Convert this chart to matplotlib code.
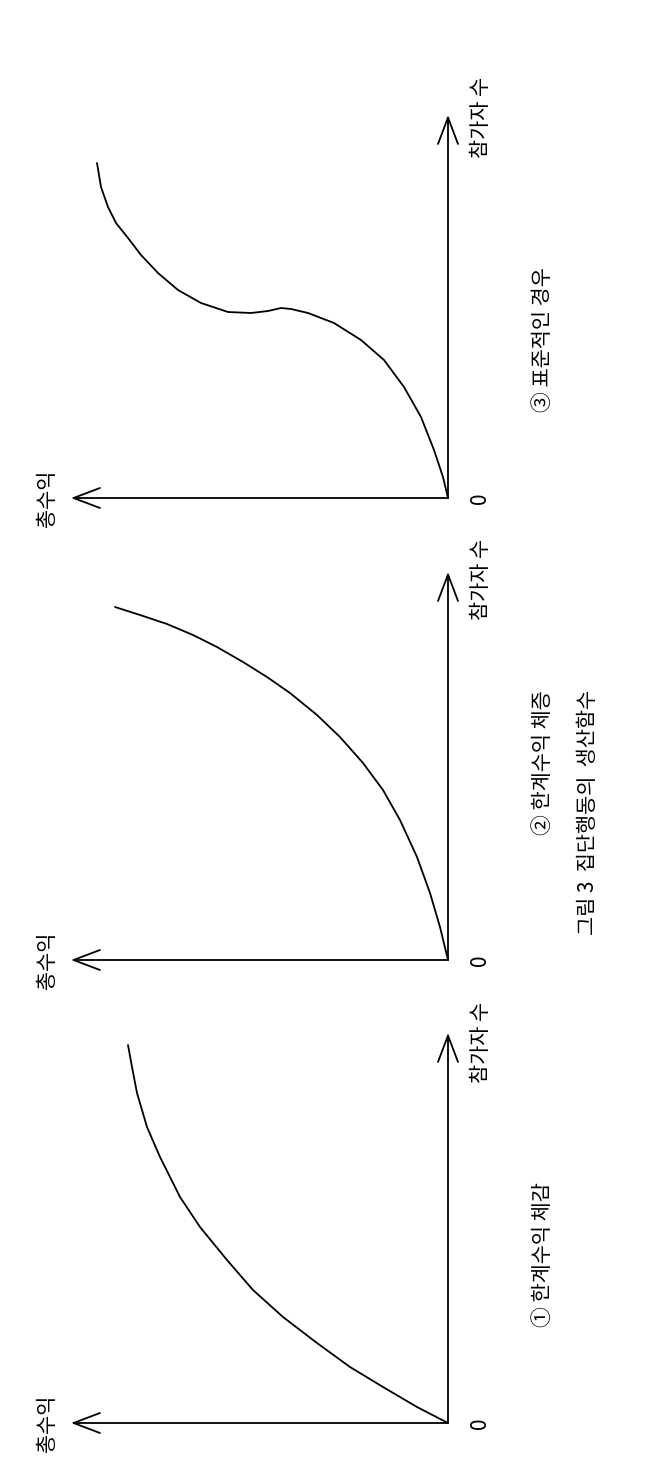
import matplotlib
matplotlib.use("Agg")
import matplotlib.pyplot as plt

plt.rcParams['font.family'] = ['Noto Sans CJK KR', 'DejaVu Sans']

# curves: (총수익, 참가자 수) in the same units for all panels
t1 = [0, 31, 65, 98, 131, 165, 195, 221, 248, 268, 288, 301, 311, 316, 320]
p1 = [0, 16, 36, 56, 80, 106, 133, 163, 196, 226, 266, 296, 330, 356, 378]

t2 = [0, 8, 18, 31, 48, 65, 85, 108, 131, 158, 181, 205, 231, 255, 281, 308, 333]
p2 = [0, 33, 67, 103, 140, 170, 197, 223, 245, 267, 283, 298, 313, 325, 336, 345, 353]

t3 = [0, 5, 14, 27, 44, 64, 87, 114, 140, 157, 167, 180, 197, 220, 247, 270, 290,
      307, 320, 332, 340, 347, 351]
p3 = [0, 21, 48, 81, 111, 138, 158, 175, 185, 189, 190, 187, 185, 186, 195, 208, 225,
      243, 260, 275, 291, 311, 335]

captions = ['① 한계수익 체감', '② 한계수익 체증', '③ 표준적인 경우']
x_label = '참가자 수'
y_label = '총수익'
title = '그림 3  집단행동의  생산함수'

W, H = 655, 1461
fig = plt.figure(figsize=(W / 100, H / 100), dpi=100)
fig.patch.set_facecolor('white')

# panels are drawn turned a quarter: 총수익 runs to the left, 참가자 수 runs up
origins = [1423, 960, 498]       # pixel row of each origin
ox = 448                         # pixel column of the origins
arrow_up = [390, 388, 383]
arrow_left = 377
cap_pos = [168, 197, 158]
curves = [(t1, p1), (t2, p2), (t3, p3)]

arrow = dict(arrowstyle='->,head_length=0.95,head_width=0.36', mutation_scale=20,
             lw=1.3, color='black', shrinkA=0, shrinkB=0)
fs = 15

for i, oy in enumerate(origins):
    ax = fig.add_axes([0, (H - oy) / H, ox / W, 420 / H])
    ax.set_xlim(ox, 0)
    ax.set_ylim(0, 420)
    ax.axis('off')

    t, p = curves[i]
    ax.plot(t, p, color='black', lw=1.3, clip_on=False, solid_capstyle='round')

    ax.annotate('', xy=(arrow_left, 0), xytext=(0, 0), arrowprops=arrow,
                annotation_clip=False)
    ax.annotate('', xy=(0, arrow_up[i]), xytext=(0, 0), arrowprops=arrow,
                annotation_clip=False)

    ax.text(-32, 0, '0', rotation=90, ha='center', va='center', fontsize=fs,
            clip_on=False)
    ax.text(-33, 381, x_label, rotation=90, ha='center', va='center', fontsize=fs,
            clip_on=False)
    ax.text(401, 0, y_label, rotation=90, ha='center', va='center', fontsize=fs,
            clip_on=False)
    ax.text(-95, cap_pos[i], captions[i], rotation=90, ha='center', va='center',
            fontsize=fs, clip_on=False)

fig.text(588 / W, 1 - 812 / H, title, rotation=90, ha='center', va='center',
         fontsize=fs)

fig.savefig('out.png', dpi=100, facecolor='white')
